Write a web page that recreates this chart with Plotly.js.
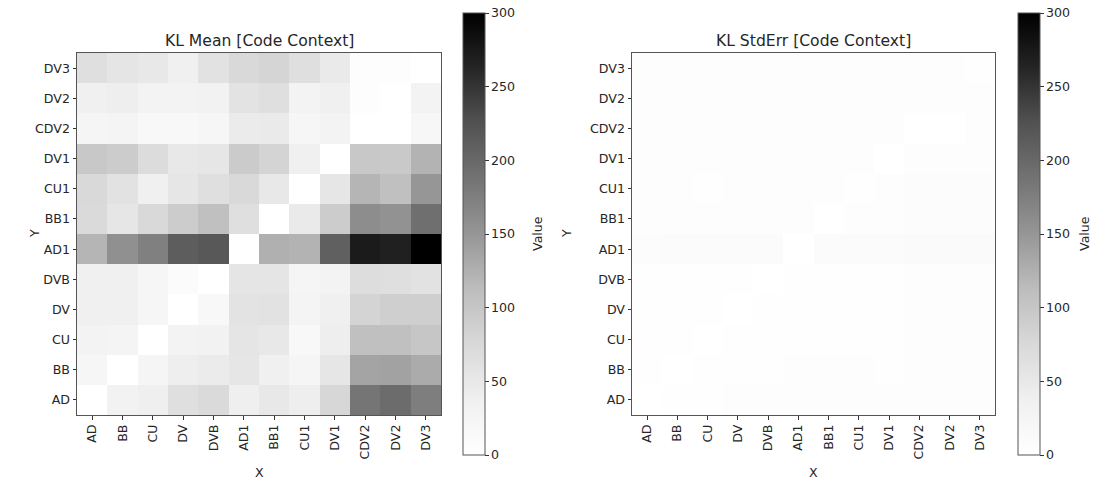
<!DOCTYPE html>
<html>
<head>
<meta charset="utf-8">
<script src="https://cdn.plot.ly/plotly-3.0.1.min.js"></script>
<style>html,body{margin:0;padding:0;background:#fff}#chart{width:1097px;height:486px}</style>
</head>
<body>
<div id="chart"></div>
<script>
// Category labels (x left-to-right, y bottom-to-top)
const xLabels = ["AD","BB","CU","DV","DVB","AD1","BB1","CU1","DV1","CDV2","DV2","DV3"];
const yLabels = ["AD","BB","CU","DV","DVB","AD1","BB1","CU1","DV1","CDV2","DV2","DV3"];

// KL Mean rows, bottom (AD) to top (DV3)
const meanAD   = [0,32,39,65,74,39,50,40,78,185,196,176];
const meanBB   = [22,0,25,40,46,53,37,25,53,137,138,130];
const meanCU   = [30,27,0,30,32,55,50,17,40,108,108,100];
const meanDV   = [37,37,22,0,17,58,60,27,37,82,88,88];
const meanDVB  = [37,37,22,10,0,55,55,25,30,68,65,60];
const meanAD1  = [120,156,174,212,218,0,125,122,209,273,268,300];
const meanBB1  = [74,53,75,92,108,65,0,48,92,160,154,192];
const meanCU1  = [75,60,37,53,65,75,50,0,53,120,108,150];
const meanDV1  = [98,92,70,50,53,94,82,37,0,98,97,122];
const meanCDV2 = [25,27,17,17,22,46,48,22,30,0,0,20];
const meanDV2  = [37,40,30,30,32,58,65,30,37,5,0,30];
const meanDV3  = [65,55,50,37,60,75,80,65,47,5,5,0];

// KL StdErr rows, bottom (AD) to top (DV3)
const seAD   = [0,3,3,4,4,4,4,4,4,6,6,6];
const seBB   = [3,0,3,3,3,4,4,4,3,5,5,5];
const seCU   = [3,3,0,3,3,3,3,3,3,5,5,5];
const seDV   = [3,3,3,0,2,3,3,3,3,5,5,5];
const seDVB  = [3,3,3,2,0,3,3,3,3,5,5,5];
const seAD1  = [8,10,10,11,11,0,11,11,11,12,12,13];
const seBB1  = [5,4,5,5,5,5,0,5,6,7,7,7];
const seCU1  = [5,5,3,5,5,6,6,3,6,7,7,7];
const seDV1  = [6,6,5,5,5,6,6,6,0,6,6,6];
const seCDV2 = [5,5,5,5,5,6,6,6,6,0,0,6];
const seDV2  = [4,4,4,4,4,5,5,5,5,4,4,6];
const seDV3  = [4,4,4,4,5,5,5,5,4,4,4,3];

const colorbarTicks = [0,50,100,150,200,250,300];

const klMean = [meanAD,meanBB,meanCU,meanDV,meanDVB,meanAD1,meanBB1,meanCU1,meanDV1,meanCDV2,meanDV2,meanDV3];
const klStdErr = [seAD,seBB,seCU,seDV,seDVB,seAD1,seBB1,seCU1,seDV1,seCDV2,seDV2,seDV3];

const greys = [
  [0,"#ffffff"],[0.125,"#f0f0f0"],[0.25,"#d9d9d9"],[0.375,"#bdbdbd"],
  [0.5,"#969696"],[0.625,"#737373"],[0.75,"#525252"],[0.875,"#252525"],[1,"#000000"]
];

const W = 1097, H = 486;
const FONT = "DejaVu Sans, sans-serif";
const TXT = "#262626";
const TS = 12.6;   // tick / label font size
const TT = 15.6;   // title font size

function cbar(xpx){
  return {
    x: xpx / W, xanchor: "left", xref: "paper",
    y: 1 - 234 / H, yanchor: "middle", len: 442 / H, lenmode: "fraction",
    thickness: 22, thicknessmode: "pixels",
    outlinewidth: 1, outlinecolor: "#555",
    tickvals: colorbarTicks, ticks: "outside", ticklen: 3.5, tickwidth: 1, tickcolor: "#333",
    tickfont: {family: FONT, size: TS, color: TXT},
    xpad: 0, ypad: 0
  };
}

const traces = [
  {type: "heatmap", x: xLabels, y: yLabels, z: klMean, zmin: 0, zmax: 300,
   colorscale: greys, xaxis: "x", yaxis: "y", colorbar: cbar(463)},
  {type: "heatmap", x: xLabels, y: yLabels, z: klStdErr, zmin: 0, zmax: 300,
   colorscale: greys, xaxis: "x2", yaxis: "y2", colorbar: cbar(1018)}
];

function xax(d0, d1, anchor){
  return {domain: [d0 / W, d1 / W], anchor: anchor, type: "category",
    tickangle: -90, ticks: "outside", ticklen: 3.5, tickwidth: 1, tickcolor: "#333",
    tickfont: {family: FONT, size: TS, color: TXT},
    showline: true, mirror: true, linecolor: "#555", linewidth: 1,
    showgrid: false, zeroline: false, automargin: false};
}
function yax(anchor){
  return {domain: [1 - 415 / H, 1 - 53 / H], anchor: anchor, type: "category",
    ticks: "outside", ticklen: 3.5, tickwidth: 1, tickcolor: "#333",
    tickfont: {family: FONT, size: TS, color: TXT},
    showline: true, mirror: true, linecolor: "#555", linewidth: 1,
    showgrid: false, zeroline: false, automargin: false};
}

function ann(text, xpx, ypx, size, angle){
  return {text: text, xref: "paper", yref: "paper", x: xpx / W, y: 1 - ypx / H,
    xanchor: "center", yanchor: "middle", showarrow: false, textangle: angle || 0,
    font: {family: FONT, size: size, color: TXT}};
}

const layout = {
  width: W, height: H,
  margin: {l: 0, r: 0, t: 0, b: 0},
  paper_bgcolor: "#fff", plot_bgcolor: "#fff",
  font: {family: FONT, color: TXT},
  showlegend: false,
  xaxis: xax(77, 441, "y"),
  yaxis: yax("x"),
  xaxis2: xax(632, 995, "y2"),
  yaxis2: yax("x2"),
  annotations: [
    ann("KL Mean [Code Context]", (77 + 441) / 2, 40.5, TT),
    ann("KL StdErr [Code Context]", (632 + 995) / 2, 40.5, TT),
    ann("X", (77 + 441) / 2, 472, TS),
    ann("X", (632 + 995) / 2, 472, TS),
    ann("Y", 35, 234, TS, -90),
    ann("Y", 567, 234, TS, -90),
    ann("Value", 538, 234, TS, -90),
    ann("Value", 1085, 234, TS, -90)
  ]
};

Plotly.newPlot("chart", traces, layout, {displayModeBar: false, staticPlot: true});
</script>
</body>
</html>
